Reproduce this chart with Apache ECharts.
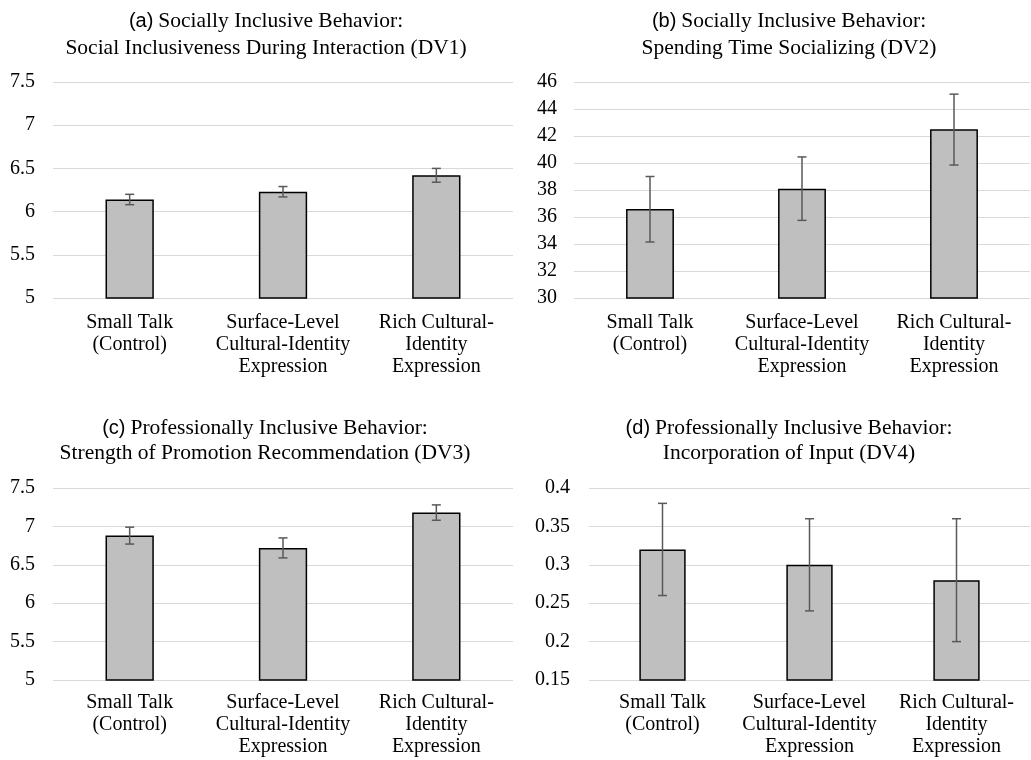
<!DOCTYPE html>
<html><head><meta charset="utf-8">
<script src="https://cdn.jsdelivr.net/npm/echarts@6/dist/echarts.min.js"></script>
<style>html,body{margin:0;padding:0;background:#fff}#c{width:1031px;height:760px}</style>
</head><body><div id="c"></div>
<script>
const categories = ['Small Talk\n(Control)', 'Surface-Level\nCultural-Identity\nExpression', 'Rich Cultural-\nIdentity\nExpression'];
const titlesA = ['(a)', 'Socially Inclusive Behavior:', 'Social Inclusiveness During Interaction (DV1)'];
const titlesB = ['(b)', 'Socially Inclusive Behavior:', 'Spending Time Socializing (DV2)'];
const titlesC = ['(c)', 'Professionally Inclusive Behavior:', 'Strength of Promotion Recommendation (DV3)'];
const titlesD = ['(d)', 'Professionally Inclusive Behavior:', 'Incorporation of Input (DV4)'];
const meanA = [6.14, 6.23, 6.42];
const lowA = [6.08, 6.17, 6.34];
const highA = [6.20, 6.29, 6.50];
const meanB = [36.6, 38.1, 42.5];
const lowB = [34.15, 35.75, 39.85];
const highB = [39.0, 40.45, 45.1];
const meanC = [6.88, 6.72, 7.18];
const lowC = [6.77, 6.59, 7.08];
const highC = [6.99, 6.85, 7.28];
const meanD = [0.32, 0.30, 0.28];
const lowD = [0.26, 0.24, 0.20];
const highD = [0.38, 0.36, 0.36];
const axisA = {min: 5, max: 7.5, interval: 0.5};
const axisB = {min: 30, max: 46, interval: 2};
const axisC = {min: 5, max: 7.5, interval: 0.5};
const axisD = {min: 0.15, max: 0.4, interval: 0.05};

const SERIF = '"Liberation Serif", "Times New Roman", serif';
const SANS = '"Liberation Sans", Arial, sans-serif';

const panels = [
  {t: titlesA, mean: meanA, low: lowA, high: highA, ax: axisA,
   grid: {left: 53, top: 82, width: 460, height: 216}, tx: 266, ty: 8, lh: 27, lm: 18, xm: 14},
  {t: titlesB, mean: meanB, low: lowB, high: highB, ax: axisB,
   grid: {left: 574, top: 82, width: 456, height: 216}, tx: 789, ty: 8, lh: 27, lm: 17, xm: 14},
  {t: titlesC, mean: meanC, low: lowC, high: highC, ax: axisC,
   grid: {left: 53, top: 488, width: 460, height: 192}, tx: 265, ty: 416, lh: 25, lm: 18, xm: 12},
  {t: titlesD, mean: meanD, low: lowD, high: highD, ax: axisD,
   grid: {left: 589, top: 488, width: 441, height: 192}, tx: 789, ty: 416, lh: 25, lm: 19, xm: 12}
];

const option = {
  backgroundColor: '#fff',
  animation: false,
  title: panels.map(p => ({
    text: '{s|' + p.t[0] + '} {m|' + p.t[1] + '}\n{m|' + p.t[2] + '}',
    left: p.tx, top: p.ty, textAlign: 'center', padding: 0,
    textStyle: {
      fontWeight: 'normal',
      rich: {
        s: {fontFamily: SANS, fontSize: 20, fontWeight: 'normal', color: '#000', lineHeight: p.lh},
        m: {fontFamily: SERIF, fontSize: 21.5, fontWeight: 'normal', color: '#000', lineHeight: p.lh}
      }
    }
  })),
  grid: panels.map(p => Object.assign({containLabel: false}, p.grid)),
  xAxis: panels.map((p, i) => ({
    type: 'category', gridIndex: i, data: categories,
    axisLine: {show: false}, axisTick: {show: false},
    axisLabel: {interval: 0, margin: p.xm, color: '#000', fontFamily: SERIF, fontSize: 20, lineHeight: 22}
  })),
  yAxis: panels.map((p, i) => ({
    type: 'value', gridIndex: i, min: p.ax.min, max: p.ax.max, interval: p.ax.interval,
    axisLine: {show: false}, axisTick: {show: false},
    axisLabel: {margin: p.lm, color: '#000', fontFamily: SERIF, fontSize: 20},
    splitLine: {show: true, lineStyle: {color: '#d9d9d9', width: 1}}
  })),
  series: []
};

panels.forEach((p, i) => {
  option.series.push({
    type: 'bar', xAxisIndex: i, yAxisIndex: i, data: p.mean, barWidth: '31.5%',
    itemStyle: {color: '#bfbfbf', borderColor: '#000', borderWidth: 1.5},
    z: 2
  });
  option.series.push({
    type: 'custom', xAxisIndex: i, yAxisIndex: i,
    data: p.mean.map((m, k) => [k, p.low[k], p.high[k]]),
    encode: {x: 0, y: [1, 2]},
    z: 3,
    renderItem: function (params, api) {
      const x = api.value(0);
      const lo = api.coord([x, api.value(1)]);
      const hi = api.coord([x, api.value(2)]);
      const hw = 4.5;
      const st = {stroke: '#595959', lineWidth: 1.5, fill: null};
      return {
        type: 'group',
        children: [
          {type: 'line', shape: {x1: lo[0], y1: lo[1], x2: hi[0], y2: hi[1]}, style: st},
          {type: 'line', shape: {x1: lo[0] - hw, y1: lo[1], x2: lo[0] + hw, y2: lo[1]}, style: st},
          {type: 'line', shape: {x1: hi[0] - hw, y1: hi[1], x2: hi[0] + hw, y2: hi[1]}, style: st}
        ]
      };
    }
  });
});

const chart = echarts.init(document.getElementById('c'), null, {renderer: 'canvas'});
chart.setOption(option);
</script>
</body></html>
